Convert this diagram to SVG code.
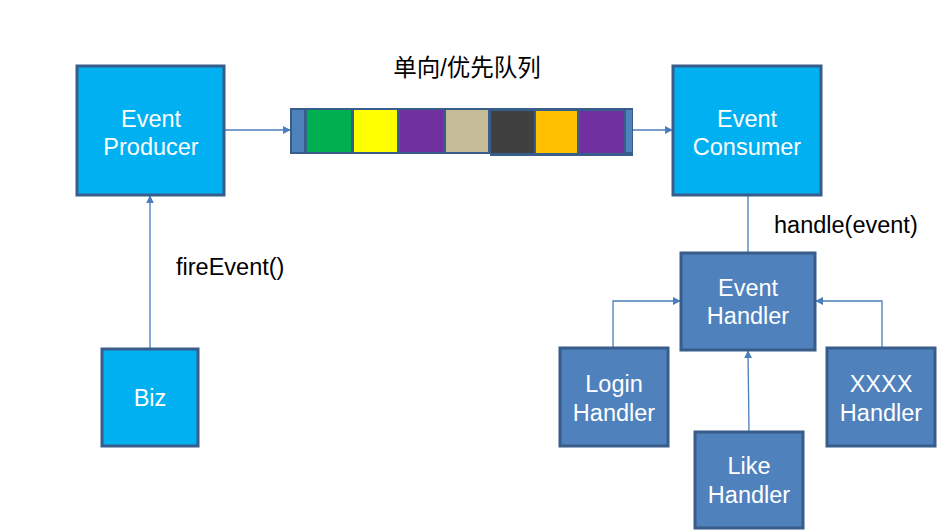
<svg xmlns="http://www.w3.org/2000/svg" width="943" height="531" viewBox="0 0 943 531">
<style>
.lb{fill:#00B0F0;stroke:#385D8A;stroke-width:3}
.hb{fill:#4F81BD;stroke:#385D8A;stroke-width:3}
.t{font-family:"Liberation Sans",Arial,sans-serif;font-size:23.5px;fill:#fff;text-anchor:middle}
.k{font-family:"Liberation Sans",Arial,sans-serif;font-size:23.5px;fill:#000}
.c{fill:none;stroke:#4A7EBB;stroke-width:1.3}
</style>
<defs>
<marker id="ah" viewBox="0 0 10 10" refX="9" refY="5" markerWidth="8" markerHeight="8" markerUnits="userSpaceOnUse" orient="auto">
<path d="M0,0 L10,5 L0,10 z" fill="#4A7EBB"/>
</marker>
</defs>
<rect width="943" height="531" fill="#fff"/>
<g id="connectors">
<line class="c" x1="224" y1="130" x2="290" y2="130" marker-end="url(#ah)"/>
<line class="c" x1="633" y1="130" x2="672" y2="130" marker-end="url(#ah)"/>
<line class="c" x1="150" y1="348" x2="150" y2="196" marker-end="url(#ah)"/>
<line class="c" x1="748" y1="195" x2="748" y2="253"/>
<polyline class="c" points="613,347 613,301 680,301" marker-end="url(#ah)"/>
<polyline class="c" points="882,347 882,301 816,301" marker-end="url(#ah)"/>
<line class="c" x1="749" y1="431" x2="748" y2="351" marker-end="url(#ah)"/>
</g>
<g id="queue">
<rect x="290" y="108" width="343" height="46" fill="#385D8A"/>
<rect x="490" y="150" width="143" height="6" fill="#385D8A"/>
<rect x="292" y="110" width="12" height="42" fill="#4F81BD"/>
<rect x="626" y="110" width="6" height="42" fill="#4F81BD"/>
<rect x="307" y="110" width="44" height="42" fill="#00B050"/>
<rect x="354" y="110" width="43" height="42" fill="#FFFF00"/>
<rect x="400" y="110" width="43" height="42" fill="#7030A0"/>
<rect x="446" y="110" width="42" height="42" fill="#C4BD97"/>
<rect x="491" y="111" width="43" height="42" fill="#404040"/>
<rect x="536" y="111" width="41" height="42" fill="#FFC000"/>
<rect x="580" y="111" width="44" height="42" fill="#7030A0"/>
</g>
<text class="k" x="467" y="76" text-anchor="middle" style="font-family:'Liberation Sans','Noto Sans CJK SC',sans-serif">单向/优先队列</text>
<g id="producer">
<rect class="lb" x="77" y="66" width="147" height="129"/>
<text class="t" x="151" y="127">Event</text>
<text class="t" x="151" y="155">Producer</text>
</g>
<g id="consumer">
<rect class="lb" x="673" y="66" width="148" height="129"/>
<text class="t" x="747" y="127">Event</text>
<text class="t" x="747" y="155">Consumer</text>
</g>
<g id="biz">
<rect class="lb" x="102" y="349" width="96" height="97"/>
<text class="t" x="150" y="406">Biz</text>
</g>
<text class="k" x="176" y="275">fireEvent()</text>
<text class="k" x="774" y="233">handle(event)</text>
<g id="eventHandler">
<rect class="hb" x="681" y="253" width="134" height="97"/>
<text class="t" x="748" y="296">Event</text>
<text class="t" x="748" y="324">Handler</text>
</g>
<g id="loginHandler">
<rect class="hb" x="560" y="348" width="108" height="98"/>
<text class="t" x="614" y="392">Login</text>
<text class="t" x="614" y="421">Handler</text>
</g>
<g id="xxxxHandler">
<rect class="hb" x="827" y="348" width="108" height="98"/>
<text class="t" x="881" y="392">XXXX</text>
<text class="t" x="881" y="421">Handler</text>
</g>
<g id="likeHandler">
<rect class="hb" x="695" y="432" width="108" height="96"/>
<text class="t" x="749" y="474">Like</text>
<text class="t" x="749" y="503">Handler</text>
</g>
</svg>
